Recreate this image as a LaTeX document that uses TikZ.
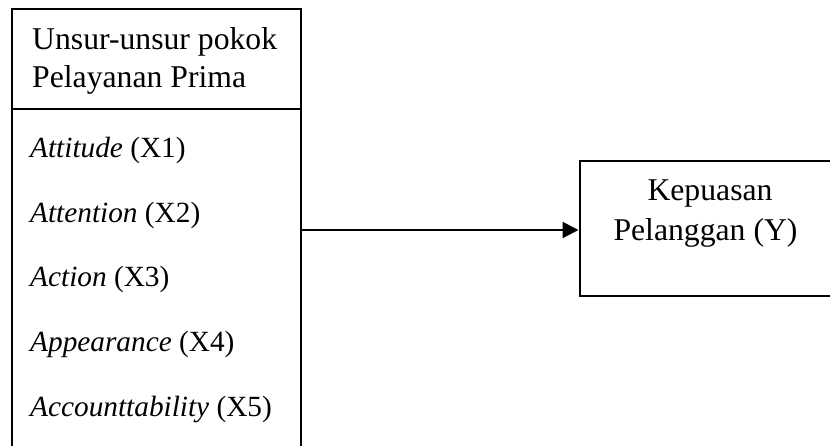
\documentclass[tikz,border=0pt]{standalone}
\usepackage{fontspec}
\setmainfont{Liberation Serif}
\usetikzlibrary{arrows.meta}
\begin{document}
\begin{tikzpicture}[x=1pt,y=-1pt,
  boxline/.style={draw=black, line width=2pt, inner sep=0pt, outer sep=0pt},
  label/.style={inner sep=0pt, font=\fontsize{31.7}{38}\selectfont},
  headtext/.style={label, anchor=base west},
  itemtext/.style={inner sep=0pt, anchor=base west, font=\fontsize{29.3}{35}\selectfont},
  arrowline/.style={line width=2.3pt, -{Triangle[length=16pt,width=16pt]}}]
\useasboundingbox (0,0) rectangle (830,445);
\clip (0,0) rectangle (830,445);

% left panel: heading block plus list of variables (runs past the lower edge)
\node[boxline, anchor=north west, minimum width=289.5pt, minimum height=470pt] (leftbox) at (11.5,8.5) {};
\coordinate (divl) at (11.5,109);
\coordinate (divr) at (301,109);
\draw[line width=2pt] (divl) -- (divr);

\node[headtext] (h1) at (32,49) {Unsur-unsur pokok};
\node[headtext] (h2) at (32,87) {Pelayanan Prima};

\node[itemtext] (x1) at (30,157) {\textit{Attitude} (X1)};
\node[itemtext] (x2) at (30,222) {\textit{Attention} (X2)};
\node[itemtext] (x3) at (30,286) {\textit{Action} (X3)};
\node[itemtext] (x4) at (30,351) {\textit{Appearance} (X4)};
\node[itemtext] (x5) at (30,416) {\textit{Accounttability} (X5)};

% right panel: dependent variable (runs past the right edge)
\node[boxline, anchor=north west, minimum width=252pt, minimum height=135.5pt] (rightbox) at (580,160.5) {};
\node[label, anchor=base] (y1) at (710,200) {Kepuasan};
\node[label, anchor=base] (y2) at (705.5,240) {Pelanggan (Y)};

% connector
\coordinate (lvl) at (0,230);
\draw[arrowline] (leftbox.east |- lvl) -- ([xshift=-1.5pt]rightbox.west |- lvl);
\end{tikzpicture}
\end{document}
